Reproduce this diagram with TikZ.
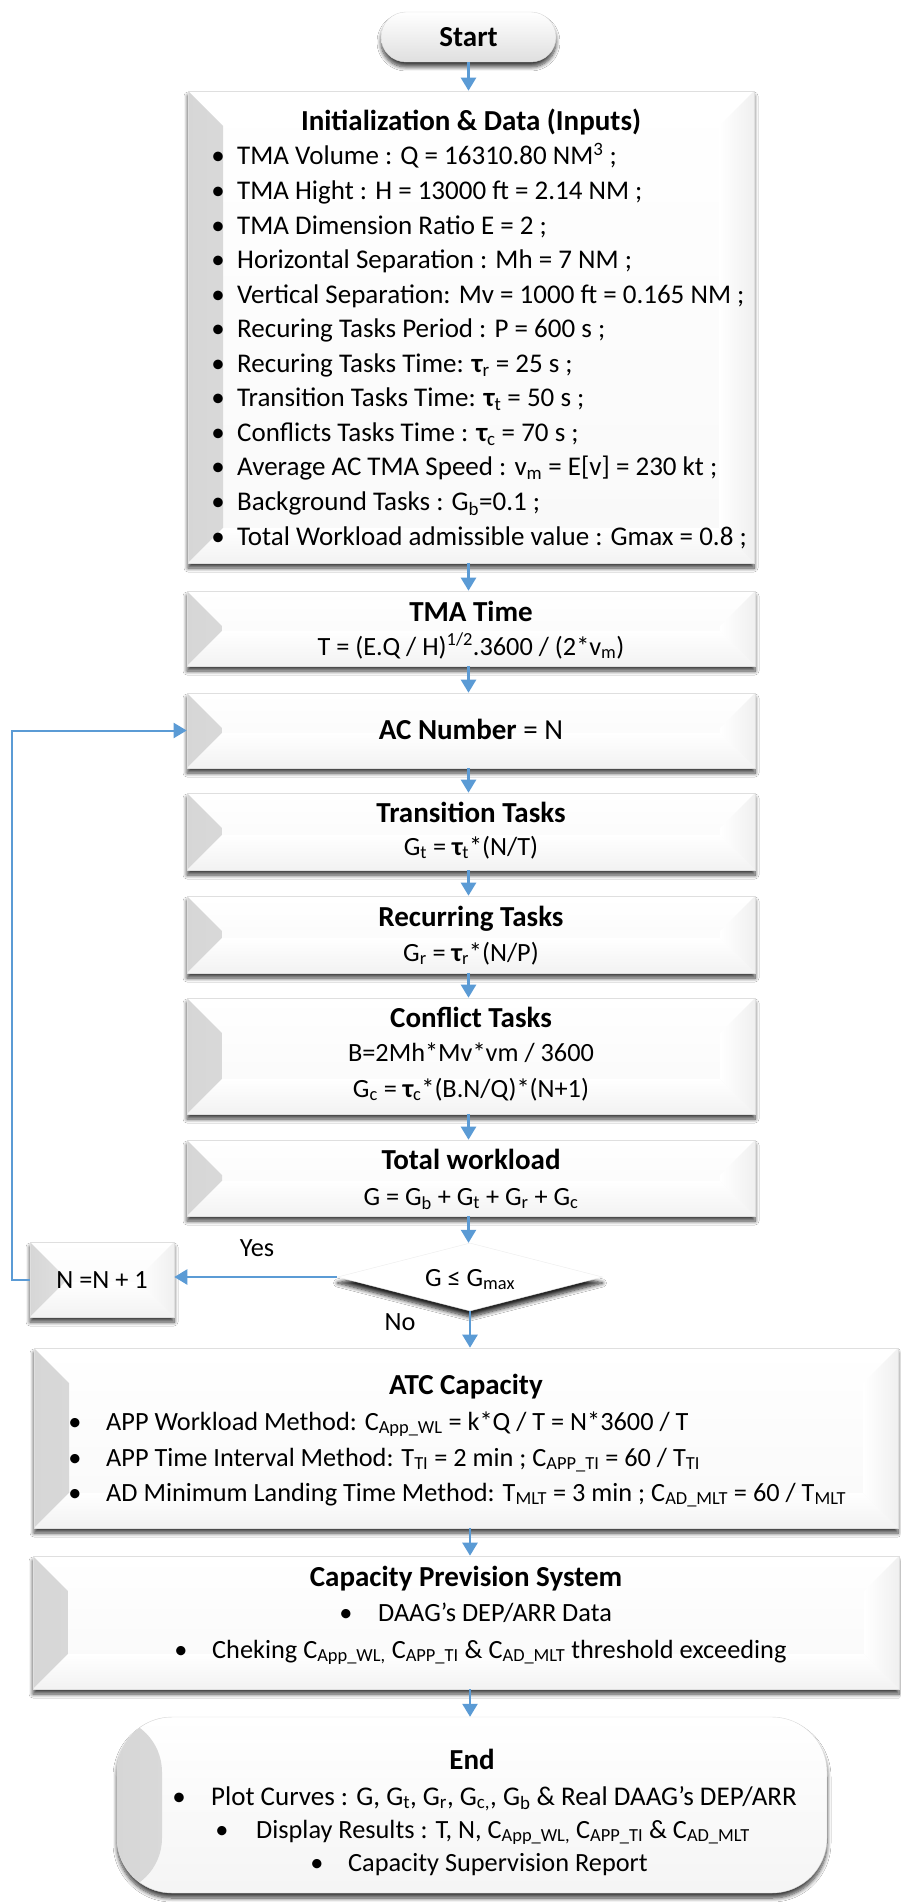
\documentclass[tikz,border=0pt]{standalone}
\usepackage{fontspec}
\setmainfont{Carlito}
\usetikzlibrary{arrows.meta,shapes.geometric,shadows.blur}
\definecolor{arrowblue}{RGB}{91,155,213}
\newcommand{\sbs}[1]{\textsubscript{#1}}
\newcommand{\sps}[1]{\textsuperscript{#1}}
\newcommand{\tauB}{{\bfseries τ}}
\begin{document}
\begin{tikzpicture}[x=1pt,y=-1pt,
  shad/.style={blur shadow={shadow xshift=0pt, shadow yshift=-5pt, shadow blur radius=4pt, shadow blur steps=8, shadow opacity=75}},
  bev/.style={rectangle, draw=gray!25, line width=0.6pt, top color=white, bottom color=gray!5,
    inner sep=0pt, shad,
    path picture={
      \shade[left color=gray!32, right color=white]
        (path picture bounding box.north west) -- ++(35pt,-35pt)
        -- ([shift={(35pt,35pt)}]path picture bounding box.south west)
        -- (path picture bounding box.south west) -- cycle;
      \shade[left color=white, right color=gray!12]
        (path picture bounding box.north east) -- ++(-35pt,-35pt)
        -- ([shift={(-35pt,35pt)}]path picture bounding box.south east)
        -- (path picture bounding box.south east) -- cycle;
      \shade[top color=white, bottom color=gray!10]
        (path picture bounding box.south west) -- ++(35pt,35pt)
        -- ([shift={(-35pt,35pt)}]path picture bounding box.south east)
        -- (path picture bounding box.south east) -- cycle;
    }},
  txt/.style={inner sep=0pt, font=\fontsize{26.3}{30}\selectfont, anchor=base},
  txtb/.style={inner sep=0pt, font=\fontsize{27}{31}\selectfont, anchor=base},
  ttl/.style={inner sep=0pt, font=\fontsize{29}{33}\selectfont\bfseries, anchor=base},
  itm/.style={txt, anchor=base west},
  itmb/.style={txtb, anchor=base west},
  arr/.style={draw=arrowblue, line width=2.4pt, -{Triangle[width=15pt,length=13pt]}}
]
\fill[white] (0,0) rectangle (900,1902);
\useasboundingbox (0,0) rectangle (900,1902);

% ---------- boxes ----------
\node[rectangle, rounded corners=25pt, minimum width=175pt, minimum height=50pt, inner sep=0pt,
  draw=gray!30, top color=white, bottom color=gray!25, shad] (start) at (468.5,37) {};
\node[bev, minimum width=566pt, minimum height=472pt] (init) at (471,327) {};
\node[bev, minimum width=568pt, minimum height=75pt] (tma) at (471,628.5) {};
\node[bev, minimum width=568pt, minimum height=75pt] (acn) at (471,730.5) {};
\node[bev, minimum width=568pt, minimum height=77pt] (trans) at (471,831.5) {};
\node[bev, minimum width=568pt, minimum height=77pt] (rec) at (471,934.5) {};
\node[bev, minimum width=568pt, minimum height=116pt] (conf) at (471,1056) {};
\node[bev, minimum width=568pt, minimum height=76pt] (tot) at (471,1178) {};
\node[diamond, minimum width=265pt, minimum height=68pt, inner sep=0pt, aspect=3.9,
  draw=gray!15, fill=white,
  blur shadow={shadow xshift=0pt, shadow yshift=-6pt, shadow blur radius=4pt, shadow blur steps=8, shadow opacity=85}] (dia) at (470,1277) {};
\node[bev, minimum width=144pt, minimum height=75pt] (nbox) at (102,1279.5) {};
\node[bev, minimum width=864pt, minimum height=180pt] (atc) at (466,1438) {};
\node[bev, minimum width=866pt, minimum height=133pt] (cps) at (466,1622.5) {};
\node[rectangle, rounded corners=55pt, minimum width=710pt, minimum height=176pt, inner sep=0pt,
  draw=gray!30, top color=white, bottom color=gray!8, shad,
  path picture={
    \shade[left color=gray!32, right color=white]
      (path picture bounding box.north west) rectangle ([xshift=45pt]path picture bounding box.south west);
  }] (endb) at (472,1805) {};

% ---------- connectors ----------
\draw[arr] (start.south) -- (start.south |- init.north);
\draw[arr] (init.south -| start.south) -- (start.south |- tma.north);
\draw[arr] (tma.south -| start.south) -- (start.south |- acn.north);
\draw[arr] (acn.south -| start.south) -- (start.south |- trans.north);
\draw[arr] (trans.south -| start.south) -- (start.south |- rec.north);
\draw[arr] (rec.south -| start.south) -- (start.south |- conf.north);
\draw[arr] (conf.south -| start.south) -- (start.south |- tot.north);
\draw[arr] (tot.south -| start.south) -- (start.south |- dia.north);
\draw[arr] (dia.south) -- (dia.south |- atc.north);
\draw[arr] (atc.south -| dia.south) -- (dia.south |- cps.north);
\draw[arr] (cps.south -| dia.south) -- (dia.south |- endb.north);
\draw[arr] (dia.west) -- (dia.west -| nbox.east);
\draw[arr, line width=2pt] (nbox.west) -- ++(-18,0) |- (acn.west);

% ---------- texts ----------
\node[ttl] (tstart) at (468.5,47) {Start};

\node[ttl] (tinit) at (471,131) {Initialization \& Data (Inputs)};
\foreach \k/\t in {
  1/{TMA Volume : Q = 16310.80 NM\sps{3} ;},
  2/{TMA Hight : H = 13000 ft = 2.14 NM ;},
  3/{TMA Dimension Ratio E = 2 ;},
  4/{Horizontal Separation : Mh = 7 NM ;},
  5/{Vertical Separation: Mv = 1000 ft = 0.165 NM ;},
  6/{Recuring Tasks Period : P = 600 s ;},
  7/{Recuring Tasks Time: \tauB\sbs{r} = 25 s ;},
  8/{Transition Tasks Time: \tauB\sbs{t} = 50 s ;},
  9/{Conflicts Tasks Time : \tauB\sbs{c} = 70 s ;},
  10/{Average AC TMA Speed : v\sbs{m} = E[v] = 230 kt ;},
  11/{Background Tasks : G\sbs{b}=0.1 ;},
  12/{Total Workload admissible value : Gmax = 0.8 ;}}
{
  \node[txtb] (ib\k) at (218,{165+34.55*(\k-1)}) {\textbullet};
  \node[itmb] (it\k) at (237,{165+34.55*(\k-1)}) {\t};
}

\node[ttl] (ttma) at (471,621) {TMA Time};
\node[txt] (ftma) at (471,655) {T = (E.Q / H)\sps{1/2}.3600 / (2*v\sbs{m})};

\node[txt] (tacn) at (471,739) {\fontsize{29}{33}\selectfont\textbf{AC Number} = N};

\node[ttl] (ttrans) at (471,822) {Transition Tasks};
\node[txt] (ftrans) at (471,855) {G\sbs{t} = \tauB\sbs{t}*(N/T)};

\node[ttl] (trec) at (471,926) {Recurring Tasks};
\node[txt] (frec) at (471,961) {G\sbs{r} = \tauB\sbs{r}*(N/P)};

\node[ttl] (tconf) at (471,1027) {Conflict Tasks};
\node[txt] (fconf1) at (471,1061) {B=2Mh*Mv*vm / 3600};
\node[txt] (fconf2) at (471,1097) {G\sbs{c} = \tauB\sbs{c}*(B.N/Q)*(N+1)};

\node[ttl] (ttot) at (471,1169) {Total workload};
\node[txt] (ftot) at (471,1205) {G = G\sbs{b} + G\sbs{t} + G\sbs{r} + G\sbs{c}};

\node[txt] (tdia) at (470,1286) {G ≤ G\sbs{max}};
\node[txt] (tn) at (102,1288) {N =N + 1};
\node[txt] (yes) at (257,1256) {Yes};
\node[txt] (no) at (400,1330) {No};

\node[ttl] (tatc) at (466,1394) {ATC Capacity};
\node[txt] (ab1) at (75,1430) {\textbullet};
\node[itm] (at1) at (106,1430) {APP Workload Method: C\sbs{App\_WL} = k*Q / T = N*3600 / T};
\node[txt] (ab2) at (75,1466) {\textbullet};
\node[itm] (at2) at (106,1466) {APP Time Interval Method: T\sbs{TI} = 2 min ; C\sbs{APP\_TI} = 60 / T\sbs{TI}};
\node[txt] (ab3) at (75,1501) {\textbullet};
\node[itm] (at3) at (106,1501) {AD Minimum Landing Time Method: T\sbs{MLT} = 3 min ; C\sbs{AD\_MLT} = 60 / T\sbs{MLT}};

\node[ttl] (tcps) at (466,1586) {Capacity Prevision System};
\node[txt] (cb1) at (346,1621) {\textbullet};
\node[itm] (ct1) at (378,1621) {DAAG’s DEP/ARR Data};
\node[txt] (cb2) at (181,1658) {\textbullet};
\node[itm] (ct2) at (212,1658) {Cheking C\sbs{App\_WL,} C\sbs{APP\_TI} \& C\sbs{AD\_MLT} threshold exceeding};

\node[ttl] (tend) at (472,1769) {End};
\node[txtb] (eb1) at (179,1805) {\textbullet};
\node[itmb] (et1) at (211,1805) {Plot Curves : G, G\sbs{t}, G\sbs{r}, G\sbs{c,}, G\sbs{b} \& Real DAAG’s DEP/ARR};
\node[txt] (eb2) at (222,1838) {\textbullet};
\node[itm] (et2) at (256,1838) {Display Results : T, N, C\sbs{App\_WL,} C\sbs{APP\_TI} \& C\sbs{AD\_MLT}};
\node[txt] (eb3) at (317,1871) {\textbullet};
\node[itm] (et3) at (348,1871) {Capacity Supervision Report};
\end{tikzpicture}
\end{document}
